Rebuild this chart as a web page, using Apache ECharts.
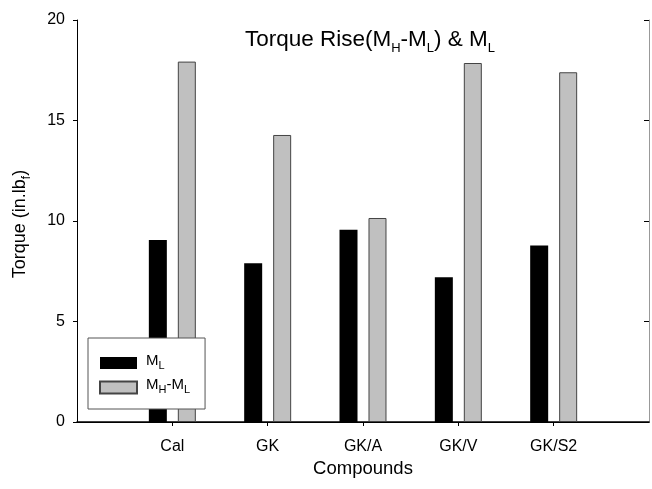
<!DOCTYPE html>
<html>
<head>
<meta charset="utf-8">
<script src="https://cdn.jsdelivr.net/npm/echarts@6/dist/echarts.min.js"></script>
<style>html,body{margin:0;padding:0;background:#fff;}#c{width:652px;height:489px;}</style>
</head>
<body>
<div id="c"></div>
<script>
var categories = ['', 'Cal', 'GK', 'GK/A', 'GK/V', 'GK/S2', ''];
var mlValues = [null, 9.05, 7.9, 9.57, 7.2, 8.78, null];
var riseValues = [null, 17.93, 14.28, 10.15, 17.86, 17.4, null];
var yTicks = [0, 5, 10, 15, 20];
var seriesNames = ['ML', 'MH-ML'];

var FONT = 'Liberation Sans, Arial, sans-serif';
var chart = echarts.init(document.getElementById('c'), null, {renderer: 'canvas'});

function richPair(main, sub, lh, pb) {
  return {
    m: {fontSize: main, fontFamily: FONT, color: '#000', fontWeight: 'normal', lineHeight: lh, verticalAlign: 'bottom', padding: [0, 0, pb, 0]},
    s: {fontSize: sub, fontFamily: FONT, color: '#000', fontWeight: 'normal', lineHeight: sub, verticalAlign: 'bottom'}
  };
}

var option = {
  backgroundColor: '#fff',
  animation: false,
  title: {
    text: '{m|Torque Rise(M}{s|H}{m|-M}{s|L}{m|) & M}{s|L}',
    left: 365, textAlign: 'center', top: 24,
    textStyle: {fontWeight: 'normal', rich: richPair(22.5, 13, 26, 4)}
  },
  legend: {
    orient: 'vertical',
    left: 88, top: 338,
    padding: [15, 15, 13.5, 11],
    icon: 'rect',
    itemWidth: 37, itemHeight: 12, itemGap: 6.5,
    borderColor: '#555', borderWidth: 1, borderRadius: 0,
    backgroundColor: '#fff',
    data: seriesNames,
    formatter: function (n) {
      return n === 'ML' ? '{m|M}{s|L}' : '{m|M}{s|H}{m|-M}{s|L}';
    },
    textStyle: {rich: richPair(15, 11, 16, 3), padding: [0, 0, 0, 4]}
  },
  grid: {left: 77, right: 1, top: 20, bottom: 67, containLabel: false},
  xAxis: [{
    type: 'category',
    data: categories,
    boundaryGap: false,
    axisLine: {lineStyle: {color: '#000', width: 1.5}},
    axisTick: {show: true, length: 4, interval: function (i) { return i > 0 && i < categories.length - 1; }, lineStyle: {color: '#000'}},
    axisLabel: {fontSize: 16, fontFamily: FONT, color: '#000', margin: 17, interval: 0},
    name: 'Compounds',
    nameLocation: 'middle', nameGap: 36,
    nameTextStyle: {fontSize: 18.5, fontFamily: FONT, color: '#000'}
  }, {
    type: 'category', position: 'top', data: categories, boundaryGap: false,
    axisLine: {lineStyle: {color: '#000', width: 1}},
    axisTick: {show: false}, axisLabel: {show: false}
  }],
  yAxis: [{
    type: 'value', min: 0, max: 20, interval: 5,
    axisLine: {show: true, lineStyle: {color: '#000', width: 1}},
    axisTick: {show: true, length: 4, lineStyle: {color: '#000'}},
    axisLabel: {fontSize: 16, fontFamily: FONT, color: '#000', margin: 12},
    splitLine: {show: false},
    name: '{m|Torque (in.lb}{s|f}{m|)}',
    nameLocation: 'middle', nameGap: 44, nameRotate: 90,
    nameTextStyle: {rich: richPair(18, 12, 22, 4), padding: [0, 6, 0, 0]}
  }, {
    type: 'value', min: 0, max: 20, interval: 5, position: 'right',
    axisLine: {show: true, lineStyle: {color: '#999', width: 1}},
    axisTick: {show: true, inside: true, length: 5, lineStyle: {color: '#000'}},
    axisLabel: {show: false},
    splitLine: {show: false}
  }],
  series: [{
    name: 'ML', type: 'bar', data: mlValues,
    barWidth: 18, barGap: '61%',
    itemStyle: {color: '#000', borderColor: '#000', borderWidth: 0}
  }, {
    name: 'MH-ML', type: 'bar', data: riseValues,
    barWidth: 18,
    itemStyle: {color: '#c0c0c0', borderColor: '#444', borderWidth: 1}
  }]
};
chart.setOption(option);
</script>
</body>
</html>
